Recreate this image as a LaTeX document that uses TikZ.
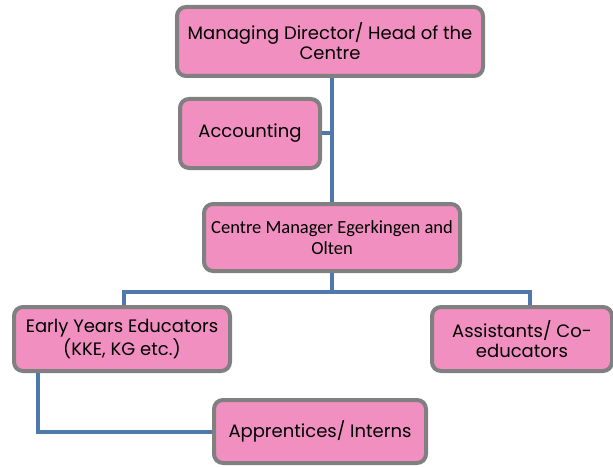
\documentclass[tikz,border=0pt]{standalone}
\usepackage{fontspec}
\setmainfont{Poppins}
\newfontfamily\calibri{Carlito}
\usepackage{tikz}
\definecolor{boxpink}{RGB}{240,143,192}
\definecolor{boxgray}{RGB}{128,128,128}
\definecolor{linkblue}{RGB}{79,121,172}
\tikzstyle{unit} = [rectangle, rounded corners=9pt, draw=boxgray, line width=4pt, fill=boxpink, align=center, inner sep=2pt, font=\fontsize{18}{20}\selectfont]
\tikzstyle{link} = [draw=linkblue, line width=4pt]

\begin{document}
\begin{tikzpicture}[x=1pt, y=-1pt]
        \useasboundingbox (0,0) rectangle (613,468);
        \coordinate (bus) at (332,292);
        \node (director) [unit, minimum width=306pt, minimum height=69pt] at (330,41.5) {Managing Director/ Head of the\\Centre};
        \node (accounting) [unit, minimum width=140pt, minimum height=69pt] at (250,133.5) {Accounting};
        \node (manager) [unit, minimum width=256pt, minimum height=67pt, font=\calibri\fontsize{18.5}{21}\selectfont] at (332,237.5) {Centre Manager Egerkingen and\\Olten};
        \node (early) [unit, minimum width=216pt, minimum height=64pt] at (122,339) {Early Years Educators\\(KKE, KG etc.)};
        \node (assistants) [unit, minimum width=180pt, minimum height=64pt] at (522,339) {Assistants/ Co-\\educators};
        \node (apprentices) [unit, minimum width=212pt, minimum height=63pt] at (320,431.5) {Apprentices/ Interns};
        % blue links
        \draw [link] (director.south -| bus) -- (manager.north -| bus);
        \draw [link] (accounting.east) -- (accounting.east -| bus);
        \draw [link] (manager.south -| bus) -- (bus);
        \draw [link] ([xshift=2pt]early.north) |- (bus) -| ([xshift=8pt]assistants.north);
        \draw [link] ([xshift=-84pt]early.south) |- (apprentices.west);
    \end{tikzpicture}
\end{document}
